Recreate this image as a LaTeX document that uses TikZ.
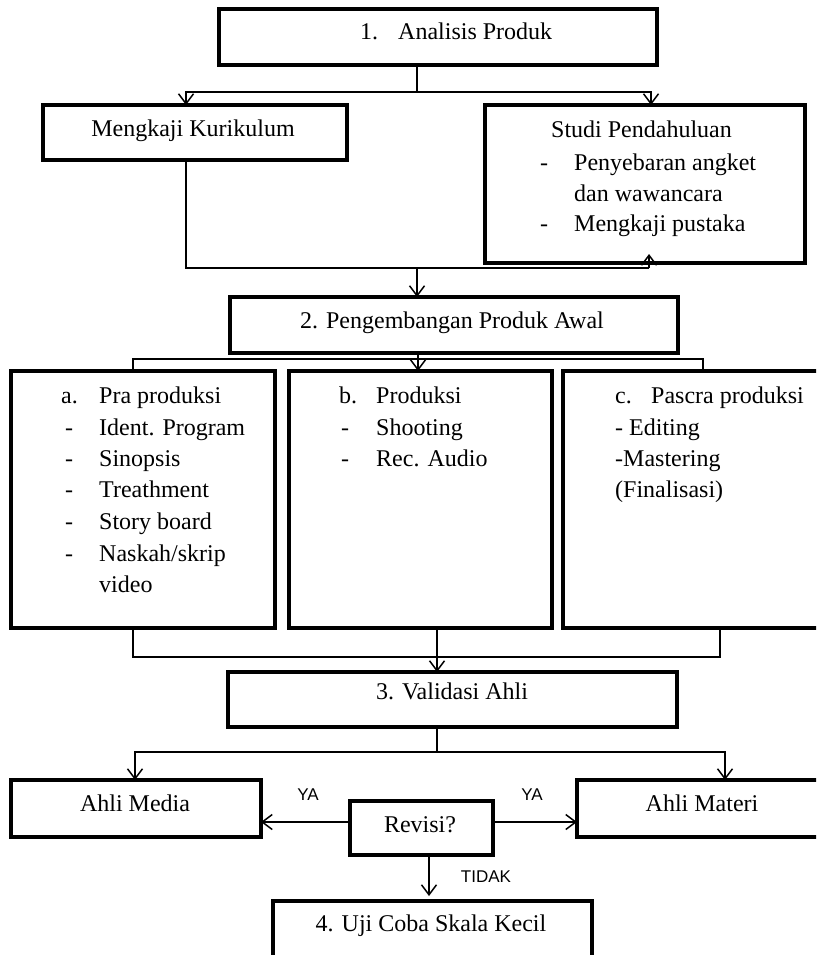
\documentclass[tikz,border=0pt]{standalone}
\usepackage{fontspec}
\setmainfont{Liberation Serif}
\newfontfamily\lblfont{Liberation Sans}
\usetikzlibrary{arrows.meta,calc}
\tikzset{
  box/.style={draw, line width=3.3pt, inner sep=0pt, outer sep=0pt},
  txt/.style={inner sep=0pt, anchor=base west, font=\fontsize{24}{29}\selectfont},
  ctxt/.style={inner sep=0pt, anchor=base, font=\fontsize{24}{29}\selectfont},
  lbl/.style={inner sep=0pt, anchor=center, font=\lblfont\fontsize{17}{20}\selectfont},
  conn/.style={line width=1.5pt},
  arr/.style={conn, -{Straight Barb[length=10pt,width=15pt,line width=1.5pt]}}
}
\begin{document}
\begin{tikzpicture}[x=1pt,y=-1pt]
\useasboundingbox (0,0) rectangle (816,955);
\clip (0,0) rectangle (816,955);

% boxes
\node[box, minimum width=438pt, minimum height=56pt] (b1) at (438,37) {};
\node[box, minimum width=304pt, minimum height=55pt] (mk) at (195,132.5) {};
\node[box, minimum width=320pt, minimum height=158pt] (st) at (645,184) {};
\node[box, minimum width=448pt, minimum height=56pt] (b2) at (454,325) {};
\node[box, minimum width=264pt, minimum height=257pt] (ba) at (143,499.5) {};
\node[box, minimum width=263pt, minimum height=257pt] (bb) at (420.5,499.5) {};
\node[box, minimum width=267pt, minimum height=257pt] (bc) at (696.5,499.5) {};
\node[box, minimum width=449pt, minimum height=55pt] (b3) at (452.5,699.5) {};
\node[box, minimum width=250pt, minimum height=57pt] (am) at (136,808.5) {};
\node[box, minimum width=143pt, minimum height=54pt] (rv) at (421.5,828) {};
\node[box, minimum width=253pt, minimum height=57pt] (mt) at (703.5,808.5) {};
\node[box, minimum width=319pt, minimum height=69pt] (b4) at (432.5,935.5) {};

% texts
\node[txt] (t1n) at (360,40) {1.};
\node[txt] (t1) at (398,40) {Analisis Produk};
\node[ctxt] (tmk) at (193,136) {Mengkaji Kurikulum};
\node[txt] (tst) at (551,138) {Studi Pendahuluan};
\node[txt] (tsd1) at (540,170) {-};
\node[txt] (tst1) at (574,170) {Penyebaran angket};
\node[txt] (tst2) at (574,201) {dan wawancara};
\node[txt] (tsd2) at (540,231) {-};
\node[txt] (tst3) at (574,231) {Mengkaji pustaka};
\node[ctxt] (t2) at (452,328) {2. Pengembangan Produk Awal};

\node[txt] (tan) at (61,403) {a.};
\node[txt] (ta0) at (99,403) {Pra produksi};
\node[txt] (tad1) at (65,435) {-};
\node[txt] (ta1) at (99,435) {Ident. Program};
\node[txt] (tad2) at (65,466) {-};
\node[txt] (ta2) at (99,466) {Sinopsis};
\node[txt] (tad3) at (65,497) {-};
\node[txt] (ta3) at (99,497) {Treathment};
\node[txt] (tad4) at (65,529) {-};
\node[txt] (ta4) at (99,529) {Story board};
\node[txt] (tad5) at (65,561) {-};
\node[txt] (ta5) at (99,561) {Naskah/skrip};
\node[txt] (ta6) at (99,592) {video};

\node[txt] (tbn) at (339,403) {b.};
\node[txt] (tb0) at (376,403) {Produksi};
\node[txt] (tbd1) at (341,435) {-};
\node[txt] (tb1) at (376,435) {Shooting};
\node[txt] (tbd2) at (341,466) {-};
\node[txt] (tb2) at (376,466) {Rec. Audio};

\node[txt] (tcn) at (615,403) {c.};
\node[txt] (tc0) at (651,403) {Pascra produksi};
\node[txt] (tc1) at (615,435) {- Editing};
\node[txt] (tc2) at (615,466) {-Mastering};
\node[txt] (tc3) at (615,497) {(Finalisasi)};

\node[ctxt] (t3) at (452,699) {3. Validasi Ahli};
\node[ctxt] (tam) at (135,811) {Ahli Media};
\node[ctxt] (tmt) at (702,811) {Ahli Materi};
\node[ctxt] (trv) at (420,832) {Revisi?};
\node[ctxt] (t4) at (431,931) {4. Uji Coba Skala Kecil};

\node[lbl] (ya1) at (308,795) {YA};
\node[lbl] (ya2) at (532,795) {YA};
\node[lbl] (tdk) at (486,877) {TIDAK};

% junction coordinates
\coordinate (j1) at (417,92);
\coordinate (j1l) at (186,92);
\coordinate (j1r) at (651,92);
\coordinate (j2) at (417,268);
\coordinate (j2l) at (186,268);
\coordinate (j2r) at (649,268);
\coordinate (stin) at (649,254);
\coordinate (j3) at (418,359);
\coordinate (j3l) at (133,359);
\coordinate (j3r) at (703,359);
\coordinate (j4) at (437,657);
\coordinate (j4l) at (133,657);
\coordinate (j4r) at (720,657);
\coordinate (j5) at (437,752);
\coordinate (j5l) at (135,752);
\coordinate (j5r) at (725,752);
\coordinate (yr) at (0,822);
\coordinate (xd) at (429,0);

% connectors
\draw[conn] (b1.south -| j1) -- (j1);
\draw[arr] (j1) -- (j1l) -- (mk.north -| j1l);
\draw[arr] (j1) -- (j1r) -- (st.north -| j1r);

\draw[conn] (mk.south -| j2l) -- (j2l) -- (j2r);
\draw[arr] (j2r) -- (stin);
\draw[arr] (j2) -- (b2.north -| j2);

\draw[conn] (b2.south -| j3) -- (j3);
\draw[conn] (ba.north -| j3l) -- (j3l) -- (j3r) -- (bc.north -| j3r);
\draw[arr] (j3) -- (bb.north -| j3);

\draw[conn] (ba.south -| j4l) -- (j4l) -- (j4r) -- (bc.south -| j4r);
\draw[arr] (bb.south -| j4) -- (b3.north -| j4);

\draw[conn] (b3.south -| j5) -- (j5);
\draw[arr] (j5) -- (j5l) -- (am.north -| j5l);
\draw[arr] (j5) -- (j5r) -- (mt.north -| j5r);

\draw[arr] (rv.west |- yr) -- (am.east |- yr);
\draw[arr] (rv.east |- yr) -- (mt.west |- yr);
\draw[arr] (rv.south -| xd) -- ($(b4.north -| xd)+(0,-5)$);
\end{tikzpicture}
\end{document}
